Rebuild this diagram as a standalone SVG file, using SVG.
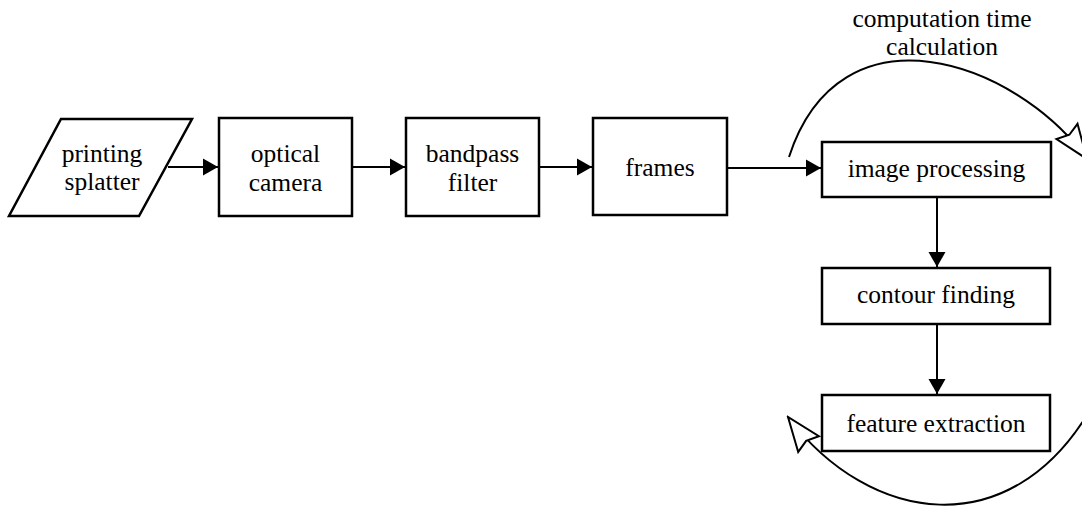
<svg xmlns="http://www.w3.org/2000/svg" width="1082" height="512" viewBox="0 0 1082 512">
<style>
.box{fill:#fff;stroke:#000;stroke-width:2.5}
.lbl{font-family:"Liberation Serif","Times New Roman",serif;font-size:25.5px;fill:#000;text-anchor:middle}
.c{fill:none;stroke:#000;stroke-width:2}
</style>
<defs>
<marker id="solid" markerUnits="userSpaceOnUse" viewBox="-16 -10 18 20" refX="0" refY="0" markerWidth="18" markerHeight="20" orient="auto">
<path d="M0,0 L-15,-8.5 L-15,8.5 Z" fill="#000"/>
</marker>
<marker id="hollow" markerUnits="userSpaceOnUse" viewBox="-38 -17 40 34" refX="0" refY="0" markerWidth="40" markerHeight="34" orient="auto">
<path d="M0,0 L-34,-13 L-30,0 L-34,13 Z" fill="#fff" stroke="#000" stroke-width="2" stroke-linejoin="miter"/>
</marker>
</defs>
<g id="connectors">
<line class="c" x1="168" y1="167" x2="218" y2="167" marker-end="url(#solid)"/>
<line class="c" x1="352" y1="167" x2="405" y2="167" marker-end="url(#solid)"/>
<line class="c" x1="539" y1="167" x2="592" y2="167" marker-end="url(#solid)"/>
<line class="c" x1="727" y1="168" x2="821" y2="168" marker-end="url(#solid)"/>
<line class="c" x1="937" y1="197" x2="937" y2="267" marker-end="url(#solid)"/>
<line class="c" x1="937" y1="324" x2="937" y2="394" marker-end="url(#solid)"/>
<path class="c" d="M789,157 C840,0 1015,60 1087,159" marker-end="url(#hollow)"/>
<path class="c" d="M1090,410 C1010,545 870,525 788,417" marker-end="url(#hollow)"/>
</g>
<g id="node-printing-splatter">
<polygon class="box" points="61,119 192,119 139,216 9,216"/>
<text class="lbl" x="102" y="162">printing</text>
<text class="lbl" x="102" y="190">splatter</text>
</g>
<g id="node-optical-camera">
<rect class="box" x="219" y="118" width="133" height="98"/>
<text class="lbl" x="285.5" y="162">optical</text>
<text class="lbl" x="285.5" y="191">camera</text>
</g>
<g id="node-bandpass-filter">
<rect class="box" x="406" y="118" width="133" height="98"/>
<text class="lbl" x="472.5" y="162">bandpass</text>
<text class="lbl" x="472.5" y="191">filter</text>
</g>
<g id="node-frames">
<rect class="box" x="593" y="118" width="134" height="97"/>
<text class="lbl" x="660" y="176">frames</text>
</g>
<g id="node-image-processing">
<rect class="box" x="822" y="142" width="229" height="55"/>
<text class="lbl" x="936.5" y="177">image processing</text>
</g>
<g id="node-contour-finding">
<rect class="box" x="822" y="268" width="228" height="56"/>
<text class="lbl" x="936" y="303">contour finding</text>
</g>
<g id="node-feature-extraction">
<rect class="box" x="822" y="395" width="228" height="56"/>
<text class="lbl" x="936" y="432">feature extraction</text>
</g>
<g id="label-computation">
<text class="lbl" x="942" y="27">computation time</text>
<text class="lbl" x="942" y="55">calculation</text>
</g>
</svg>
